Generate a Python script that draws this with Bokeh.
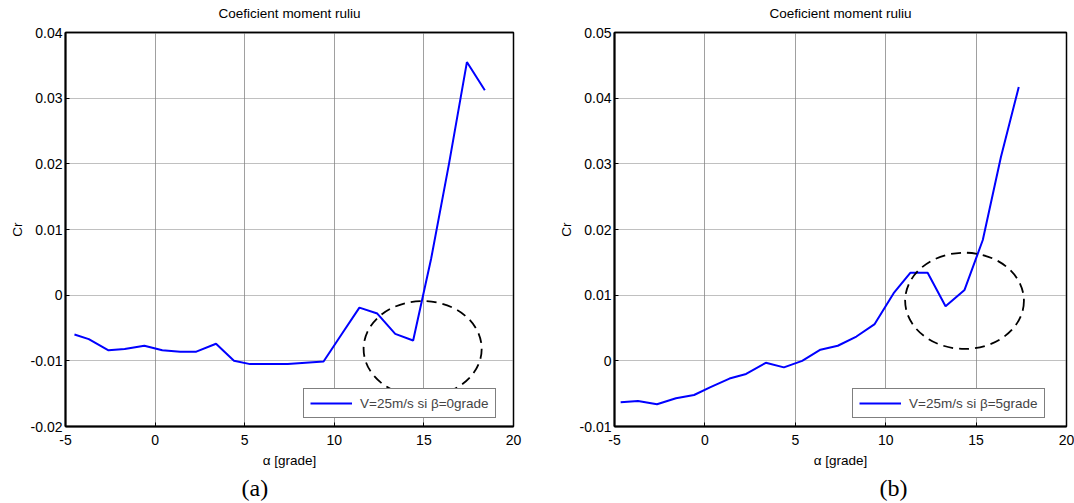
from bokeh.plotting import figure
from bokeh.models import (Range1d, FixedTicker, LinearAxis, CustomJSTickFormatter,
                          Legend, LegendItem, Title, ColumnDataSource)
from bokeh.layouts import row
from bokeh.embed import file_html
from bokeh.resources import INLINE

# ---------------- data ----------------
alpha_a = [-4.5, -3.7, -2.6, -1.7, -0.6, 0.4, 1.4, 2.3, 3.4, 4.4, 5.3, 6.4,
           7.4, 8.4, 9.4, 10.4, 11.4, 12.4, 13.4, 14.4, 15.4, 16.4, 17.4, 18.4]
cr_a = [-0.0060, -0.0067, -0.0084, -0.0082, -0.0077, -0.0084, -0.0086, -0.0086,
        -0.0074, -0.0100, -0.0105, -0.0105, -0.0105, -0.0103, -0.0101, -0.0060,
        -0.0019, -0.0028, -0.0059, -0.0069, 0.0055, 0.0200, 0.0355, 0.0312]

alpha_b = [-4.66, -3.7, -2.65, -1.6, -0.6, 0.31, 1.36, 2.28, 3.37, 4.37, 5.38,
           6.39, 7.35, 8.38, 9.39, 10.44, 11.36, 12.32, 13.31, 14.36, 15.37,
           16.37, 17.36]
cr_b = [-0.0063, -0.0061, -0.0066, -0.0057, -0.0052, -0.0040, -0.0027, -0.0020,
        -0.0003, -0.0010, 0.0000, 0.0017, 0.0023, 0.0037, 0.0056, 0.0103,
        0.0134, 0.0134, 0.0083, 0.0108, 0.0184, 0.0310, 0.0417]

x_ticks = [-5, 0, 5, 10, 15, 20]
x_tick_labels = ["-5", "0", "5", "10", "15", "20"]
y_ticks_a = [-0.02, -0.01, 0.0, 0.01, 0.02, 0.03, 0.04]
y_tick_labels_a = ["-0.02", "-0.01", "0", "0.01", "0.02", "0.03", "0.04"]
y_ticks_b = [-0.01, 0.0, 0.01, 0.02, 0.03, 0.04, 0.05]
y_tick_labels_b = ["-0.01", "0", "0.01", "0.02", "0.03", "0.04", "0.05"]

# dashed ellipses marking the stall region (center x, center y, width, height)
ell_a_x, ell_a_y, ell_a_w, ell_a_h = [14.93], [-0.00817], [6.59], [0.01455]
ell_b_x, ell_b_y, ell_b_w, ell_b_h = [14.36], [0.00914], [6.57], [0.01465]

title_text = "Coeficient moment ruliu"
x_label = "\u03b1 [grade]"
y_label = "Cr"
legend_a = "V=25m/s si \u03b2=0grade"
legend_b = "V=25m/s si \u03b2=5grade"
tag_a = "(a)"
tag_b = "(b)"

SANS = "Liberation Sans"
SERIF = "Liberation Serif"


def fmt(tvals, tlabels):
    return CustomJSTickFormatter(
        args=dict(tv=tvals, tl=tlabels),
        code="""
        for (let i = 0; i < tv.length; i++) {
            if (Math.abs(tv[i] - tick) < 1e-9) { return tl[i]; }
        }
        return '';
        """)


def make_panel(xs, ys, yr, yticks, ylabels, ell, leg_text, tag, tag_offset,
               width, mbl, mbr):
    p = figure(width=width, height=503, output_backend="svg", toolbar_location=None,
               x_range=Range1d(-5, 20), y_range=Range1d(*yr),
               x_axis_location=None, y_axis_location=None,
               min_border_left=mbl, min_border_right=mbr,
               min_border_top=32, min_border_bottom=76)
    p.background_fill_color = "white"
    p.border_fill_color = "white"
    p.outline_line_color = "black"
    p.outline_line_width = 1.5

    xt = FixedTicker(ticks=x_ticks)
    yt = FixedTicker(ticks=yticks)

    def style(ax):
        ax.axis_line_color = "black"
        ax.axis_line_width = 2
        ax.major_tick_in = 4
        ax.major_tick_out = 0
        ax.major_tick_line_color = "black"
        ax.minor_tick_line_color = None
        ax.major_label_text_font = SANS
        ax.major_label_text_color = "black"
        ax.major_label_text_font_size = "14px"
        ax.axis_label_text_font = SANS
        ax.axis_label_text_font_size = "13.5px"
        ax.axis_label_text_font_style = "normal"
        ax.axis_label_text_color = "black"

    # top axis carries the chart title as its label (no ticks)
    top = LinearAxis(ticker=FixedTicker(ticks=[]))
    style(top)
    top.axis_line_width = 1.5
    top.major_label_standoff = 0
    top.axis_label = title_text
    top.axis_label_standoff = 12
    p.add_layout(top, "above")

    bx = LinearAxis(ticker=xt, formatter=fmt(x_ticks, x_tick_labels))
    style(bx)
    bx.major_label_standoff = 8
    bx.axis_label = x_label
    bx.axis_label_standoff = 5
    p.add_layout(bx, "below")

    ly = LinearAxis(ticker=yt, formatter=fmt(yticks, ylabels))
    style(ly)
    ly.major_label_standoff = 3
    ly.axis_label = y_label
    ly.axis_label_standoff = 3
    p.add_layout(ly, "left")

    p.add_layout(Title(text=tag, align="left", offset=tag_offset, standoff=5,
                       text_font=SERIF, text_font_size="24px",
                       text_font_style="normal", text_color="black"), "below")

    p.xgrid.ticker = xt
    p.ygrid.ticker = yt
    p.xgrid.grid_line_color = "#a0a0a0"
    p.xgrid.grid_line_width = 1
    p.ygrid.grid_line_color = "#808080"
    p.ygrid.grid_line_width = 1
    p.ygrid.grid_line_dash = "1 1"

    src = ColumnDataSource(data=dict(x=xs, y=ys))
    r = p.line("x", "y", source=src, line_color="#0000ff", line_width=2)

    ex, ey, ew, eh = ell
    p.ellipse(x=ex, y=ey, width=ew, height=eh, fill_color=None,
              line_color="black", line_width=1.8, line_dash="10 6")

    leg = Legend(items=[LegendItem(label=leg_text, renderers=[r])],
                 location=(238, 8), margin=0, padding=6, spacing=0,
                 glyph_width=42, glyph_height=16, label_height=16,
                 label_standoff=8, label_text_font=SANS,
                 label_text_font_size="13.5px",
                 border_line_color="black", border_line_width=1.5,
                 background_fill_color="white", background_fill_alpha=1.0)
    p.add_layout(leg, "center")
    return p


p1 = make_panel(alpha_a, cr_a, (-0.02, 0.04), y_ticks_a, y_tick_labels_a,
                (ell_a_x, ell_a_y, ell_a_w, ell_a_h), legend_a, tag_a, 176,
                552, 65, 39)
p2 = make_panel(alpha_b, cr_b, (-0.01, 0.05), y_ticks_b, y_tick_labels_b,
                (ell_b_x, ell_b_y, ell_b_w, ell_b_h), legend_b, tag_b, 265,
                522, 62, 8)

layout = row(p1, p2, spacing=0)
open("out.html", "w").write(file_html(layout, INLINE))
